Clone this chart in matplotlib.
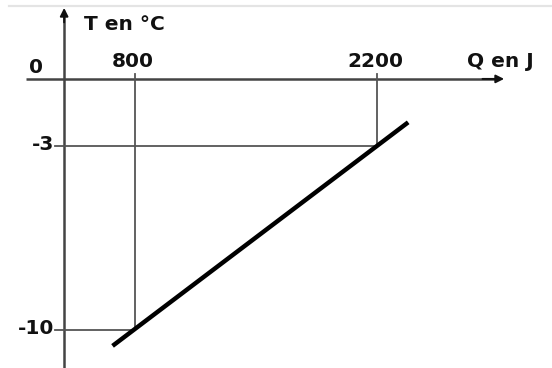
import matplotlib
matplotlib.use("Agg")
import matplotlib.pyplot as plt

# data
q_marks = [800, 2200]          # J
t_marks = [-10, -3]            # degC
q_line = [670, 2380]           # thick segment end points
t_line = [-10.6, -2.1]
q_labels = ["800", "2200"]
t_labels = ["-10", "-3"]

# schematic drawing: axes cross away from the true zero
q_axis = 390
t_axis = -0.45

fig = plt.figure(figsize=(5.52, 3.68), dpi=100)
ax = fig.add_axes([0, 0, 1, 1])
ax.set_xlim(19, 3212)
ax.set_ylim(-11.44, 2.55)
ax.axis("off")

font = dict(family="DejaVu Sans", fontweight="bold", fontsize=14.5, color="#111111")

# faint rule along the top
ax.axhline(2.33, xmin=9 / 552, xmax=1, color="#e4e4e4", lw=1.6)

# axes with arrows
ax.plot([170, 2900], [t_axis, t_axis], color="#444444", lw=1.8, solid_capstyle="butt")
ax.plot([q_axis, q_axis], [-11.44, 2.0], color="#444444", lw=1.8, solid_capstyle="butt")
ax.annotate("", xy=(2935, t_axis), xytext=(2810, t_axis),
            arrowprops=dict(arrowstyle="-|>", color="#111111", lw=1.4,
                            mutation_scale=12, shrinkA=0, shrinkB=0))
ax.annotate("", xy=(q_axis, 2.25), xytext=(q_axis, 1.7),
            arrowprops=dict(arrowstyle="-|>", color="#111111", lw=1.4,
                            mutation_scale=12, shrinkA=0, shrinkB=0))

# reading lines
for q, t in zip(q_marks, t_marks):
    ax.plot([q, q], [t_axis + 0.2, t], color="#555555", lw=1.3)
    ax.plot([340, q], [t, t], color="#555555", lw=1.3)

# the measured segment
ax.plot(q_line, t_line, color="black", lw=3.2, solid_capstyle="butt")

# tick labels
for q, lab in zip(q_marks, q_labels):
    ax.text(q - 12, t_axis + 0.65, lab, ha="center", va="center", **font)
for t, lab in zip(t_marks, t_labels):
    ax.text(330, t + 0.05, lab, ha="right", va="center", **font)
ax.text(227, -0.03, "0", ha="center", va="center", **font)

# axis titles
ax.text(740, 1.6, "T en °C", ha="center", va="center", **font)
ax.text(2915, 0.2, "Q en J", ha="center", va="center", **font)

fig.savefig("out.png", dpi=100)
